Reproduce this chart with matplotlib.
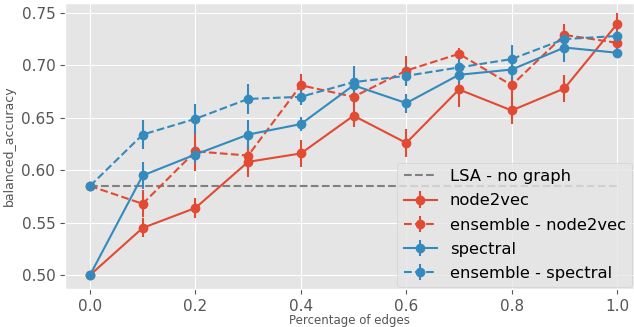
import matplotlib
matplotlib.use("Agg")
import matplotlib.pyplot as plt

plt.style.use("ggplot")

x = [0.0, 0.1, 0.2, 0.3, 0.4, 0.5, 0.6, 0.7, 0.8, 0.9, 1.0]

lsa_value = 0.585

node2vec = [0.500, 0.545, 0.564, 0.608, 0.616, 0.652, 0.626, 0.677, 0.657, 0.678, 0.7395]
node2vec_err = [0.0, 0.009, 0.0095, 0.014, 0.013, 0.011, 0.013, 0.017, 0.013, 0.013, 0.010]

ens_node2vec = [0.585, 0.568, 0.618, 0.614, 0.681, 0.670, 0.695, 0.711, 0.681, 0.729, 0.7215]
ens_node2vec_err = [0.0, 0.013, 0.019, 0.010, 0.011, 0.008, 0.014, 0.006, 0.012, 0.010, 0.008]

spectral = [0.500, 0.595, 0.615, 0.634, 0.644, 0.681, 0.664, 0.691, 0.696, 0.717, 0.712]
spectral_err = [0.0, 0.013, 0.008, 0.014, 0.007, 0.006, 0.009, 0.008, 0.010, 0.014, 0.005]

ens_spectral = [0.585, 0.634, 0.649, 0.668, 0.670, 0.684, 0.690, 0.698, 0.706, 0.725, 0.728]
ens_spectral_err = [0.0, 0.014, 0.014, 0.014, 0.008, 0.015, 0.010, 0.008, 0.013, 0.006, 0.005]

red = "#E24A33"
blue = "#348ABD"

fig = plt.figure(figsize=(6.34, 3.27), dpi=100)
ax = fig.add_axes([0.1025, 0.116, 0.8975, 0.875])

ax.plot([x[0], x[-1]], [lsa_value, lsa_value], color="gray", linestyle="--", lw=1.5, label="LSA - no graph")
common = dict(marker="o", ms=6, lw=1.5, elinewidth=1.5)
ax.errorbar(x, node2vec, yerr=node2vec_err, color=red, linestyle="-", label="node2vec", **common)
ax.errorbar(x, ens_node2vec, yerr=ens_node2vec_err, color=red, linestyle="--", label="ensemble - node2vec", **common)
ax.errorbar(x, spectral, yerr=spectral_err, color=blue, linestyle="-", label="spectral", **common)
ax.errorbar(x, ens_spectral, yerr=ens_spectral_err, color=blue, linestyle="--", label="ensemble - spectral", **common)

ax.set_xlim(-0.0474, 1.032)
ax.set_ylim(0.4867, 0.7595)
ax.set_xticks([0.0, 0.2, 0.4, 0.6, 0.8, 1.0])
ax.set_yticks([0.50, 0.55, 0.60, 0.65, 0.70, 0.75])
ax.tick_params(labelsize=11)
ax.set_xlabel("Percentage of edges", fontsize=8.5, labelpad=0)
ax.set_ylabel("balanced_accuracy", fontsize=9, labelpad=4)

ax.legend(loc="lower right", fontsize=11.8, borderaxespad=0.1, handlelength=2.0,
          labelspacing=0.56, markerscale=1.0)

fig.savefig("out.png", dpi=100)
